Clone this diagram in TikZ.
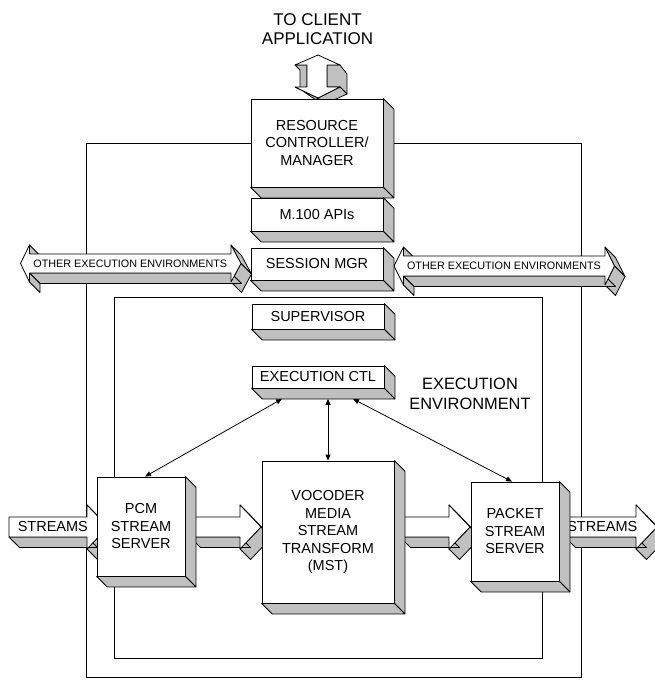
\documentclass[tikz,border=0pt]{standalone}
\usepackage{fontspec}
\setmainfont{Liberation Sans}
\usetikzlibrary{calc,arrows.meta}
\definecolor{sidegray}{RGB}{192,192,192}
\newcommand\dd{10.5}
\tikzset{
  frameline/.style={line width=0.8pt, draw=black},
  shadowface/.style={fill=sidegray, draw=black, line width=0.8pt, line join=round},
  frontface/.style={fill=white, draw=black, line width=0.8pt, line join=round},
  box3d/.style={frontface, rectangle, inner sep=0pt, align=center, font=\fontsize{14.5}{17.5}\selectfont},
  smalllabel/.style={inner sep=0pt, font=\fontsize{10.8}{12}\selectfont},
  arrowlabel/.style={inner sep=0pt, font=\fontsize{14.5}{17.5}\selectfont},
  biglabel/.style={inner sep=0pt, align=center},
  link/.style={line width=0.8pt, {Triangle[length=6pt,width=5pt]}-{Triangle[length=6pt,width=5pt]}},
}
\newcommand\mkshadow[1]{%
  \filldraw[shadowface] (#1.north east) -- ($(#1.north east)+(\dd,\dd)$) -- ($(#1.south east)+(\dd,\dd)$) -- (#1.south east) -- cycle;
  \filldraw[shadowface] (#1.south west) -- ($(#1.south west)+(\dd,\dd)$) -- ($(#1.south east)+(\dd,\dd)$) -- (#1.south east) -- cycle;
}
\newcommand\blockarrow[2]{%
  \foreach \x/\y [count=\i, remember=\x as \px, remember=\y as \py] in {#2} {
    \ifnum\i>1
      \pgfmathtruncatemacro\vis{((\y-\py)-(\x-\px))>0}
      \ifnum\vis=1
        \filldraw[shadowface] (\px,\py) -- (\x,\y) -- (\x+\dd,\y+\dd) -- (\px+\dd,\py+\dd) -- cycle;
      \fi
    \fi
  }
  \filldraw[frontface] (#1) \foreach \x/\y in {#2} { -- (\x,\y) } -- cycle;
}
\begin{document}
\begin{tikzpicture}[x=1pt,y=-1pt]
\useasboundingbox (0,0) rectangle (655,681);
% frames
\draw[frameline] (86,143) rectangle (581,677);
\draw[frameline] (114,297) rectangle (542,658);
% top double arrow
\filldraw[shadowface] (295,65) -- (307,65) -- (307,87) -- (300,89) -- (300,70) -- cycle;
\filldraw[shadowface] (327,65) -- (340,65) -- (347,74) -- (347,94) -- (340,87) -- (327,87) -- cycle;
\filldraw[shadowface] (340,87) -- (347,94) -- (325,104) -- (318,98) -- cycle;
\filldraw[shadowface] (295,87) -- (300,89) -- (316,100) -- (318,98) -- cycle;
\filldraw[frontface] (318,55) -- (340,65) -- (327,65) -- (327,87) -- (340,87) -- (318,98) -- (295,87) -- (307,87) -- (307,65) -- (295,65) -- cycle;
% other execution environment arrows
\blockarrow{20.5,263.5}{20.5/263.5, 29.5/245, 29.5/254, 231/254, 231/245, 241/263.5, 231/282, 231/273, 29.5/273, 29.5/282, 20.5/263.5}
\node[smalllabel] (oeel) at (130.3,263.5) {OTHER EXECUTION ENVIRONMENTS};
\blockarrow{394,266}{394/266, 403.5/247, 403.5/256, 605/256, 605/247, 614.5/266, 605/285, 605/276, 403.5/276, 403.5/285, 394/266}
\node[smalllabel] (oeer) at (504,266) {OTHER EXECUTION ENVIRONMENTS};
% stream arrows
\blockarrow{9,517}{9/517, 87/517, 87/505, 108/527, 87/549, 87/537, 9/537, 9/517}
\node[arrowlabel] (strl) at (52.8,526.5) {STREAMS};
\blockarrow{190,517}{190/517, 240/517, 240/505, 261/527, 240/549, 240/537, 190/537, 190/517}
\blockarrow{400,517}{400/517, 449/517, 449/505, 470/527, 449/549, 449/537, 400/537, 400/517}
\blockarrow{565,517}{565/517, 636/517, 636/505, 657/527, 636/549, 636/537, 565/537, 565/517}
\node[arrowlabel] (strr) at (602.3,526.5) {STREAMS};
% boxes
\node[box3d, minimum width=132pt, minimum height=88pt] (res) at (317,143) {RESOURCE\\CONTROLLER/\\MANAGER};
\mkshadow{res}
\node[box3d, minimum width=132pt, minimum height=33pt] (mapi) at (317,214.5) {M.100 APIs};
\mkshadow{mapi}
\node[box3d, minimum width=132pt, minimum height=32pt] (ses) at (317,264) {SESSION MGR};
\mkshadow{ses}
\node[box3d, minimum width=132pt, minimum height=25pt] (sup) at (318,316.5) {SUPERVISOR};
\mkshadow{sup}
\node[box3d, minimum width=132pt, minimum height=22pt] (ctl) at (318,377) {EXECUTION CTL};
\mkshadow{ctl}
\node[box3d, minimum width=88pt, minimum height=99pt] (pcm) at (141,526.5) {PCM\\STREAM\\SERVER};
\mkshadow{pcm}
\node[box3d, minimum width=132pt, minimum height=142pt] (voc) at (328,532) {VOCODER\\MEDIA\\STREAM\\TRANSFORM\\(MST)};
\mkshadow{voc}
\node[box3d, minimum width=88pt, minimum height=99pt] (pkt) at (515,531.5) {PACKET\\STREAM\\SERVER};
\mkshadow{pkt}
% labels
\node[biglabel, font=\fontsize{17}{19.5}\selectfont] (title) at (317.5,29) {TO CLIENT\\APPLICATION};
\node[biglabel, font=\fontsize{16.4}{20}\selectfont] (envlabel) at (470,394.2) {EXECUTION\\ENVIRONMENT};
% links
\coordinate (c1) at ($(ctl.south)+(-36,10.5)$);
\coordinate (c2) at ($(ctl.south)+(10,10.5)$);
\coordinate (c3) at ($(ctl.south)+(35,10.5)$);
\draw[link] (c1) -- ($(pcm.north)+(4,0)$);
\draw[link] (c2) -- (voc.north);
\draw[link] (c3) -- ($(pkt.north)+(-3,0)$);
\end{tikzpicture}
\end{document}
